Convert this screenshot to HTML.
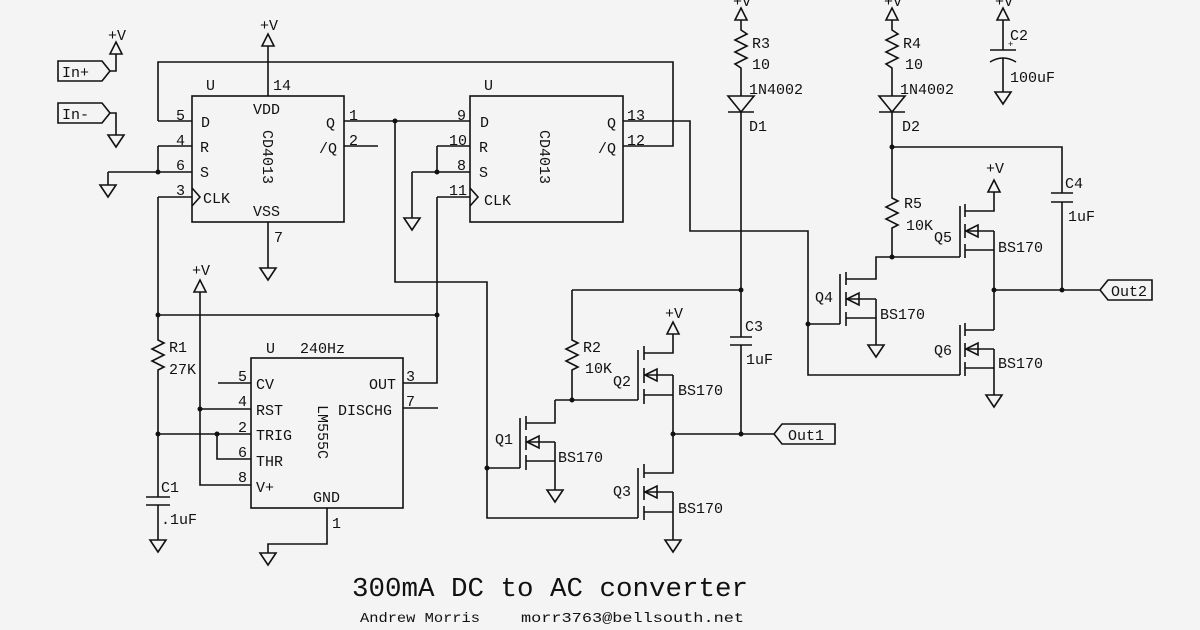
<!DOCTYPE html>
<html><head><meta charset="utf-8"><style>
html,body{margin:0;padding:0;background:#f4f4f4;}
svg{display:block}
text{font-family:"Liberation Mono",monospace;fill:#111;font-size:15px}
</style></head><body>
<svg width="1200" height="630" viewBox="0 0 1200 630" xmlns="http://www.w3.org/2000/svg">
<rect width="1200" height="630" fill="#f4f4f4"/>
<g fill="none" stroke="#111" stroke-width="1.6">
<path d="M58 61 H102 L110 71 L102 81 H58 Z"/>
<path d="M110 71 H116 V54"/>
<polygon points="110,54 122,54 116,42"/>
<path d="M58 103 H102 L110 113 L102 123 H58 Z"/>
<path d="M110 113 H116 V135"/>
<polygon points="108,135 124,135 116,147"/>
<rect x="192" y="96" width="152" height="126"/>
<path d="M268 96 V46"/><polygon points="262,46 274,46 268,34"/>
<path d="M158 121 H192 M158 121 V62 H673 V146 H623"/>
<path d="M158 146 H192 M158 146 V172 M108 172 H192 M108 172 V185"/>
<polygon points="100,185 116,185 108,197"/>
<path d="M158 197 H192 M158 197 V340 l6 3 l-12 6 l12 6 l-12 6 l12 6 l-6 3 V375"/>
<path d="M192 188 L200 197 L192 206"/>
<path d="M268 222 V268"/><polygon points="260,268 276,268 268,280"/>
<path d="M344 121 H470 M344 146 H378"/>
<path d="M395 121 V282 H487 V518 H638"/>
<rect x="470" y="96" width="153" height="126"/>
<path d="M437 146 H470 M437 146 V172 M412 172 H470 M412 172 V218"/>
<polygon points="404,218 420,218 412,230"/>
<path d="M437 197 H470 M437 197 V383 H403"/>
<path d="M470 188 L478 197 L470 206"/>
<path d="M623 121 H690 V231 H808 V375 H960"/>
<polygon points="735,20 747,20 741,8"/>
<path d="M741 20 V30 l6 4 l-12 6 l12 6 l-12 6 l12 6 l-12 6 l6 4 V96"/>
<polygon points="728,96 754,96 741,112"/>
<path d="M728 112 H754 M741 112 V337 M741 345 V434"/>
<path d="M730 337 H752 M730 345 H752"/>
<path d="M572 290 H741 M572 290 V340 l6 3 l-12 6 l12 6 l-12 6 l12 6 l-6 3 V400 M555 400 H638 M555 400 V423 H526"/>
<path d="M487 468 H520 M520 418 V468 M526 416 V430 M526 436 V450 M526 455 V470"/>
<path d="M526 442 H555 M526 461 H555 M555 442 V490"/>
<polygon points="527,442 539,436 539,448"/>
<polygon points="547,490 563,490 555,502"/>
<path d="M638 350 V400 M644 346 V360 M644 368 V383 M644 389 V404"/>
<path d="M644 353 H673 V334 M644 375 H673 M644 395 H673 M673 375 V434"/>
<polygon points="667,334 679,334 673,322"/>
<polygon points="645,375 657,369 657,381"/>
<path d="M638 468 V518 M644 464 V478 M644 486 V500 M644 506 V520"/>
<path d="M644 473 H673 V434 M644 492 H673 M644 512 H673 M673 492 V540"/>
<polygon points="645,492 657,486 657,498"/>
<polygon points="665,540 681,540 673,552"/>
<path d="M673 434 H774 L782 424 H835 V444 H782 L774 434"/>
<polygon points="886,20 898,20 892,8"/>
<path d="M892 20 V30 l6 4 l-12 6 l12 6 l-12 6 l12 6 l-12 6 l6 4 V96"/>
<polygon points="879,96 905,96 892,112"/>
<path d="M879 112 H905 M892 112 V198 l6 3 l-12 6 l12 6 l-12 6 l12 6 l-6 3 V257"/>
<path d="M892 147 H1062 V193 M1062 202 V290 M1051 193 H1073 M1051 202 H1073"/>
<path d="M808 324 H840 M840 274 V324 M846 272 V285 M846 292 V306 M846 312 V326"/>
<path d="M846 279 H876 V257 H960 M846 299 H876 M846 318 H876 M876 299 V345"/>
<polygon points="847,299 859,293 859,305"/>
<polygon points="868,345 884,345 876,357"/>
<path d="M960 206 V257 M965 204 V217 M965 224 V238 M965 244 V258"/>
<path d="M965 211 H994 V192 M965 231 H994 M965 250 H994 M994 231 V330"/>
<polygon points="988,192 1000,192 994,180"/>
<polygon points="966,231 978,225 978,237"/>
<path d="M960 325 V375 M965 323 V336 M965 343 V357 M965 362 V376"/>
<path d="M965 330 H994 M965 349 H994 M965 368 H994 M994 349 V395"/>
<polygon points="966,349 978,343 978,355"/>
<polygon points="986,395 1002,395 994,407"/>
<path d="M994 290 H1100 L1108 280 H1152 V300 H1108 L1100 290"/>
<polygon points="997,20 1009,20 1003,8"/>
<path d="M1003 20 V50 M990 50 H1016 M990 62 Q1003 54 1016 62 M1003 58 V92"/>
<polygon points="995,92 1011,92 1003,104"/>
<rect x="251" y="358" width="152" height="150"/>
<path d="M158 315 H437"/>
<polygon points="194,292 206,292 200,280"/>
<path d="M200 292 V485 H251 M200 409 H251 M218 383 H251 M158 434 H251 M217 434 V459 H251 M403 408 H438"/>
<path d="M158 375 V497 M158 505 V540 M146 497 H170 M146 505 H170"/>
<polygon points="150,540 166,540 158,552"/>
<path d="M327 508 V544 H268 V553"/>
<polygon points="260,553 276,553 268,565"/>
</g>
<g fill="#111">
<circle cx="158" cy="172" r="2.5"/><circle cx="395" cy="121" r="2.5"/><circle cx="437" cy="172" r="2.5"/>
<circle cx="741" cy="290" r="2.5"/><circle cx="572" cy="400" r="2.5"/><circle cx="487" cy="468" r="2.5"/>
<circle cx="673" cy="434" r="2.5"/><circle cx="741" cy="434" r="2.5"/><circle cx="892" cy="147" r="2.5"/>
<circle cx="892" cy="257" r="2.5"/><circle cx="808" cy="324" r="2.5"/><circle cx="994" cy="290" r="2.5"/>
<circle cx="1062" cy="290" r="2.5"/><circle cx="158" cy="315" r="2.5"/><circle cx="437" cy="315" r="2.5"/>
<circle cx="200" cy="409" r="2.5"/><circle cx="158" cy="434" r="2.5"/><circle cx="217" cy="434" r="2.5"/>
</g>
<g>
<text x="108" y="40">+V</text><text x="62" y="77">In+</text><text x="62" y="119">In-</text>
<text x="260" y="30">+V</text><text x="206" y="90">U</text><text x="273" y="90">14</text>
<text x="176" y="120">5</text><text x="176" y="145">4</text><text x="176" y="170">6</text><text x="176" y="195">3</text>
<text x="201" y="127">D</text><text x="200" y="152">R</text><text x="200" y="177">S</text><text x="203" y="203">CLK</text>
<text x="253" y="114">VDD</text><text x="253" y="216">VSS</text><text x="274" y="242">7</text>
<text x="326" y="128">Q</text><text x="319" y="153">/Q</text><text x="349" y="120">1</text><text x="349" y="145">2</text>
<text transform="translate(263,130) rotate(90)">CD4013</text>
<text x="484" y="90">U</text><text x="457" y="120">9</text><text x="449" y="145">10</text><text x="457" y="170">8</text><text x="449" y="195">11</text>
<text x="480" y="127">D</text><text x="479" y="152">R</text><text x="479" y="177">S</text><text x="484" y="205">CLK</text>
<text x="607" y="128">Q</text><text x="598" y="153">/Q</text><text x="627" y="120">13</text><text x="627" y="145">12</text>
<text transform="translate(540,130) rotate(90)">CD4013</text>
<text x="733" y="6">+V</text><text x="752" y="48">R3</text><text x="752" y="69">10</text><text x="749" y="94">1N4002</text><text x="749" y="131">D1</text>
<text x="884" y="6">+V</text><text x="903" y="48">R4</text><text x="905" y="69">10</text><text x="900" y="94">1N4002</text><text x="902" y="131">D2</text>
<text x="995" y="6">+V</text><text x="1010" y="40">C2</text><text x="1010" y="82">100uF</text>
<text x="1008" y="47" style="font-size:9px">+</text>
<text x="1065" y="188">C4</text><text x="1068" y="221">1uF</text>
<text x="904" y="208">R5</text><text x="906" y="230">10K</text>
<text x="986" y="173">+V</text><text x="934" y="242">Q5</text><text x="998" y="252">BS170</text>
<text x="815" y="302">Q4</text><text x="880" y="319">BS170</text>
<text x="934" y="355">Q6</text><text x="998" y="368">BS170</text>
<text x="1111" y="296">Out2</text>
<text x="745" y="331">C3</text><text x="746" y="364">1uF</text>
<text x="583" y="352">R2</text><text x="585" y="373">10K</text>
<text x="665" y="318">+V</text><text x="613" y="386">Q2</text><text x="678" y="395">BS170</text>
<text x="495" y="444">Q1</text><text x="558" y="462">BS170</text>
<text x="613" y="496">Q3</text><text x="678" y="513">BS170</text>
<text x="788" y="440">Out1</text>
<text x="192" y="275">+V</text>
<text x="169" y="352">R1</text><text x="169" y="374">27K</text>
<text x="161" y="492">C1</text><text x="161" y="524">.1uF</text>
<text x="266" y="353">U</text><text x="300" y="353">240Hz</text>
<text x="238" y="381">5</text><text x="238" y="406">4</text><text x="238" y="432">2</text><text x="238" y="457">6</text><text x="238" y="482">8</text>
<text x="256" y="389">CV</text><text x="256" y="415">RST</text><text x="256" y="440">TRIG</text><text x="256" y="466">THR</text><text x="256" y="492">V+</text>
<text x="369" y="389">OUT</text><text x="338" y="415">DISCHG</text>
<text x="406" y="381">3</text><text x="406" y="406">7</text>
<text x="313" y="502">GND</text><text x="332" y="528">1</text>
<text transform="translate(318,405) rotate(90)">LM555C</text>
<text x="352" y="596" style="font-size:27px" textLength="396" lengthAdjust="spacingAndGlyphs">300mA DC to AC converter</text>
<text x="360" y="622" style="font-size:14px" textLength="120" lengthAdjust="spacingAndGlyphs">Andrew Morris</text>
<text x="521" y="622" style="font-size:14px" textLength="223" lengthAdjust="spacingAndGlyphs">morr3763@bellsouth.net</text>
</g>
</svg>
</body></html>
